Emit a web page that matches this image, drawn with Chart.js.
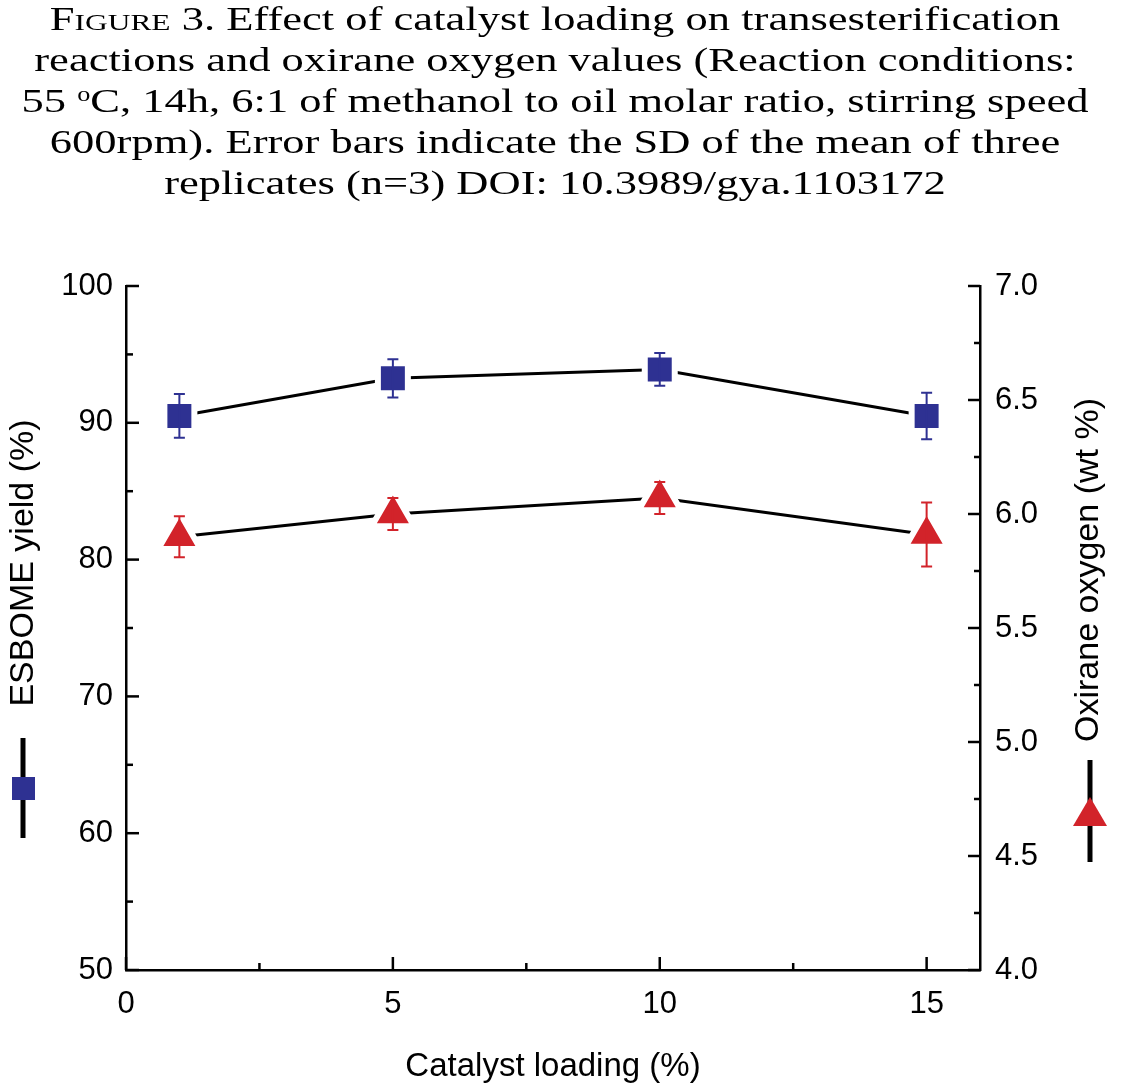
<!DOCTYPE html>
<html>
<head>
<meta charset="utf-8">
<script src="https://cdn.jsdelivr.net/npm/chart.js@4/dist/chart.umd.min.js"></script>
<style>
  html, body { margin: 0; padding: 0; background: #fff; }
  #wrap { position: relative; width: 1143px; height: 1089px; overflow: hidden; }
  #caption {
    position: absolute; left: 0; top: -2px; width: 1110px;
    font-family: "Liberation Serif", "Times New Roman", serif;
    font-size: 34px; line-height: 41px; text-align: center; color: #000;
    transform: scaleX(1.31); transform-origin: 555px 0;
  }
  #caption .sc { font-variant: small-caps; }
  #caption sup { font-size: 20px; vertical-align: 11px; line-height: 0; }
  #myChart { position: absolute; left: 0; top: 0; }
</style>
</head>
<body>
<div id="wrap">
  <canvas id="myChart" width="1143" height="1089"></canvas>
  <div id="caption">
    <span class="sc">Figure</span> 3. Effect of catalyst loading on transesterification<br>
    reactions and oxirane oxygen values (Reaction conditions:<br>
    55 <sup>o</sup>C, 14h, 6:1 of methanol to oil molar ratio, stirring speed<br>
    600rpm). Error bars indicate the SD of the mean of three<br>
    replicates (n=3) DOI: 10.3989/gya.1103172
  </div>
</div>
<script>
// data

const catalyst = [1, 5, 10, 15];
const yieldVals = [90.5, 93.25, 93.9, 90.5];
const yieldSD = [1.6, 1.4, 1.2, 1.7];
const oxiraneVals = [5.9, 6.0, 6.07, 5.91];
const oxiraneSD = [0.09, 0.07, 0.07, 0.14];

// tick labels
const xTicks = [0, 5, 10, 15];
const yieldTicks = [50, 60, 70, 80, 90, 100];
const oxiraneTicks = [4.0, 4.5, 5.0, 5.5, 6.0, 6.5, 7.0];

const BLUE = '#2e3192';
const RED = '#d2232a';
const FONT = '"Liberation Sans", Arial, sans-serif';

// error bars, drawn on top of the markers
const errorBars = {
  id: 'errorBars',
  afterDatasetsDraw(chart) {
    const ctx = chart.ctx;
    chart.data.datasets.forEach((ds, i) => {
      const meta = chart.getDatasetMeta(i);
      const yScale = chart.scales[meta.yAxisID];
      ctx.save();
      ctx.strokeStyle = ds.pointBackgroundColor;
      ctx.lineWidth = 2;
      meta.data.forEach((pt, j) => {
        const v = ds.data[j].y;
        const sd = ds.errors[j];
        const top = yScale.getPixelForValue(v + sd);
        const bot = yScale.getPixelForValue(v - sd);
        ctx.beginPath();
        ctx.moveTo(pt.x, top);
        ctx.lineTo(pt.x, bot);
        ctx.moveTo(pt.x - 5.5, top);
        ctx.lineTo(pt.x + 5.5, top);
        ctx.moveTo(pt.x - 5.5, bot);
        ctx.lineTo(pt.x + 5.5, bot);
        ctx.stroke();
      });
      ctx.restore();
    });
  }
};

// inward major + minor ticks
const innerTicks = {
  id: 'innerTicks',
  afterDraw(chart) {
    const ctx = chart.ctx;
    const {left, right, bottom} = chart.chartArea;
    ctx.save();
    ctx.strokeStyle = '#000';
    ctx.lineWidth = 2.5;
    const mark = (scale, value, len) => {
      const p = scale.getPixelForValue(value);
      ctx.beginPath();
      if (scale.axis === 'x') {
        ctx.moveTo(p, bottom);
        ctx.lineTo(p, bottom - len);
      } else if (scale.position === 'left') {
        ctx.moveTo(left, p);
        ctx.lineTo(left + len, p);
      } else {
        ctx.moveTo(right, p);
        ctx.lineTo(right - len, p);
      }
      ctx.stroke();
    };
    [['x', 13, 7], ['y0', 13, 7], ['y1', 12, 6]].forEach(([id, major, minor]) => {
      const scale = chart.scales[id];
      const vals = scale.ticks.map(t => t.value);
      vals.forEach((v, k) => {
        mark(scale, v, major);
        if (k > 0) mark(scale, (vals[k - 1] + v) / 2, minor);
      });
    });
    ctx.restore();
  }
};

// vertical axis titles with their legend key
const sideTitles = {
  id: 'sideTitles',
  afterDraw(chart) {
    const ctx = chart.ctx;
    ctx.save();
    ctx.fillStyle = '#000';
    ctx.font = '34px ' + FONT;
    ctx.textAlign = 'center';
    ctx.textBaseline = 'middle';

    ctx.save();
    ctx.translate(24, 563);
    ctx.rotate(-Math.PI / 2);
    ctx.fillText('ESBOME yield (%)', 0, 0);
    ctx.restore();

    ctx.save();
    ctx.translate(1089, 570);
    ctx.rotate(-Math.PI / 2);
    ctx.fillText('Oxirane oxygen (wt %)', 0, 0);
    ctx.restore();

    // left key
    ctx.strokeStyle = '#000';
    ctx.lineWidth = 5;
    ctx.beginPath();
    ctx.moveTo(23, 738);
    ctx.lineTo(23, 838);
    ctx.stroke();
    ctx.fillStyle = BLUE;
    ctx.fillRect(12, 777, 23, 23);

    // right key
    ctx.beginPath();
    ctx.moveTo(1090, 760);
    ctx.lineTo(1090, 862);
    ctx.stroke();
    ctx.fillStyle = RED;
    ctx.beginPath();
    ctx.moveTo(1090, 797);
    ctx.lineTo(1107, 826);
    ctx.lineTo(1073, 826);
    ctx.closePath();
    ctx.fill();
    ctx.restore();
  }
};

const data = {
  datasets: [
    {
      label: 'ESBOME yield (%)',
      data: catalyst.map((c, i) => ({x: c, y: yieldVals[i]})),
      errors: yieldSD,
      yAxisID: 'y0',
      borderColor: '#000',
      borderWidth: 3,
      pointStyle: 'rect',
      pointRadius: 21.2,
      pointBackgroundColor: BLUE,
      pointBorderColor: '#fff',
      pointBorderWidth: 6,
    },
    {
      label: 'Oxirane oxygen (wt %)',
      data: catalyst.map((c, i) => ({x: c, y: oxiraneVals[i]})),
      errors: oxiraneSD,
      yAxisID: 'y1',
      borderColor: '#000',
      borderWidth: 3,
      pointStyle: 'triangle',
      pointRadius: 24.5,
      pointBackgroundColor: RED,
      pointBorderColor: '#fff',
      pointBorderWidth: 6,
    },
  ]
};

const config = {
  type: 'line',
  data: data,
  plugins: [errorBars, innerTicks, sideTitles],
  options: {
    responsive: false,
    animation: false,
    events: [],
    layout: {
      padding: {top: 286, left: 0, right: 0, bottom: 0}
    },
    plugins: {
      legend: {display: false},
      tooltip: {enabled: false}
    },
    scales: {
      x: {
        type: 'linear',
        min: 0,
        max: 16,
        afterBuildTicks: s => { s.ticks = xTicks.map(v => ({value: v})); },
        afterFit: s => { s.height = 119; },
        grid: {display: false, drawTicks: false},
        border: {display: true, color: '#000', width: 2.5},
        ticks: {
          color: '#000',
          padding: 16,
          maxRotation: 0,
          font: {family: FONT, size: 31}
        },
        title: {
          display: true,
          text: 'Catalyst loading (%)',
          color: '#000',
          font: {family: FONT, size: 33},
          padding: {top: 0, bottom: 2}
        }
      },
      y0: {
        type: 'linear',
        position: 'left',
        min: 50,
        max: 100,
        afterBuildTicks: s => { s.ticks = yieldTicks.map(v => ({value: v})); },
        afterFit: s => { s.width = 126; },
        grid: {display: false, drawTicks: false},
        border: {display: true, color: '#000', width: 2.5},
        ticks: {
          color: '#000',
          padding: 13,
          font: {family: FONT, size: 31}
        }
      },
      y1: {
        type: 'linear',
        position: 'right',
        min: 4,
        max: 7,
        afterBuildTicks: s => { s.ticks = oxiraneTicks.map(v => ({value: v})); },
        afterFit: s => { s.width = 163; },
        grid: {display: false, drawTicks: false},
        border: {display: true, color: '#000', width: 2.5},
        ticks: {
          color: '#000',
          padding: 15,
          font: {family: FONT, size: 31},
          callback: v => Number(v).toFixed(1)
        }
      }
    }
  },
};

var myChart = new Chart(
  document.getElementById('myChart'),
  config
);
</script>
</body>
</html>
